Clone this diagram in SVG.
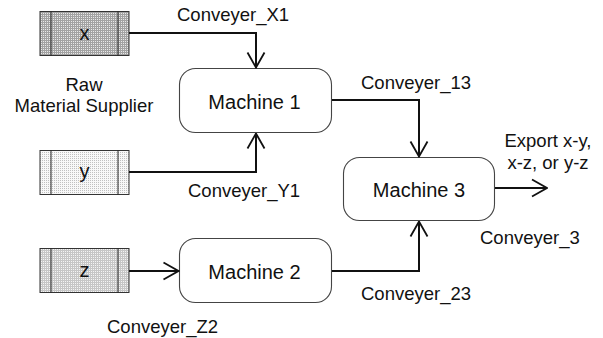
<svg xmlns="http://www.w3.org/2000/svg" width="603" height="338" viewBox="0 0 603 338">
  <style>
    text { font-family: "Liberation Sans", Arial, sans-serif; fill: #111; }
    .lbl { font-size: 18.5px; }
    .mlbl { font-size: 20px; text-anchor: middle; }
    .src { stroke: #333; stroke-width: 1; }
    .divider { stroke: #222; stroke-width: 1; }
    .machine { fill: #fff; stroke: #444; stroke-width: 1.1; }
    .conn { fill: none; stroke: #111; stroke-width: 2; marker-end: url(#openArrow); }
  </style>
  <defs>
    <!-- halftone fills for the three supplier bins -->
    <pattern id="fillDark" width="2" height="2" patternUnits="userSpaceOnUse">
      <rect width="2" height="2" fill="#e8e8e8"/>
      <rect width="2" height="1" fill="#a2a2a2"/>
      <rect width="1" height="2" fill="#a2a2a2"/>
    </pattern>
    <pattern id="fillMid" width="2" height="2" patternUnits="userSpaceOnUse">
      <rect width="2" height="2" fill="#f4f4f4"/>
      <rect width="2" height="1" fill="#c6c6c6"/>
      <rect width="1" height="2" fill="#c6c6c6"/>
    </pattern>
    <pattern id="fillLight" width="2" height="2" patternUnits="userSpaceOnUse">
      <rect width="2" height="2" fill="#f8f8f8"/>
      <rect width="1" height="1" fill="#c0c0c0"/>
    </pattern>
    <marker id="openArrow" viewBox="-17 -10 18 20" refX="0" refY="0" markerWidth="18" markerHeight="20" markerUnits="userSpaceOnUse" orient="auto">
      <path d="M-15,-8.5 L0,0 L-15,8.5" fill="none" stroke="#111" stroke-width="1.8"/>
    </marker>
  </defs>

  <!-- raw material supplier bins -->
  <g id="supplier-x">
    <rect class="src" x="40" y="11.5" width="89" height="44" fill="url(#fillDark)"/>
    <line class="divider" x1="51" y1="11.5" x2="51" y2="55.5"/>
    <line class="divider" x1="118" y1="11.5" x2="118" y2="55.5"/>
    <text class="mlbl" x="84.5" y="40">x</text>
  </g>
  <g id="supplier-y">
    <rect class="src" x="40" y="150.5" width="89" height="44" fill="url(#fillLight)"/>
    <line class="divider" x1="51" y1="150.5" x2="51" y2="194.5"/>
    <line class="divider" x1="118" y1="150.5" x2="118" y2="194.5"/>
    <text class="mlbl" x="84.5" y="178">y</text>
  </g>
  <g id="supplier-z">
    <rect class="src" x="40" y="248.5" width="89" height="44" fill="url(#fillMid)"/>
    <line class="divider" x1="51" y1="248.5" x2="51" y2="292.5"/>
    <line class="divider" x1="118" y1="248.5" x2="118" y2="292.5"/>
    <text class="mlbl" x="84.5" y="277">z</text>
  </g>
  <g id="supplier-caption">
    <text class="lbl" x="84" y="91" text-anchor="middle">Raw</text>
    <text class="lbl" x="84" y="112" text-anchor="middle">Material Supplier</text>
  </g>

  <!-- machines -->
  <g id="machine-1">
    <rect class="machine" x="179.5" y="68.5" width="152" height="64" rx="16" ry="16"/>
    <text class="mlbl" x="254.5" y="109">Machine 1</text>
  </g>
  <g id="machine-2">
    <rect class="machine" x="179.5" y="238.5" width="152" height="64" rx="16" ry="16"/>
    <text class="mlbl" x="254.5" y="279">Machine 2</text>
  </g>
  <g id="machine-3">
    <rect class="machine" x="343.5" y="157.5" width="151" height="63" rx="16" ry="16"/>
    <text class="mlbl" x="419" y="197">Machine 3</text>
  </g>

  <!-- conveyers -->
  <g id="connectors">
    <path class="conn" d="M129,33 H256 V67.5"/>
    <path class="conn" d="M129,172 H256 V133.5"/>
    <path class="conn" d="M129,271 H178.5"/>
    <path class="conn" d="M332,100 H419 V156.5"/>
    <path class="conn" d="M332,271 H419 V221.5"/>
    <path class="conn" d="M495,188 H547"/>
  </g>

  <!-- conveyer labels -->
  <g id="conveyer-labels">
    <text class="lbl" x="177" y="20.5">Conveyer_X1</text>
    <text class="lbl" x="188" y="197">Conveyer_Y1</text>
    <text class="lbl" x="107" y="333">Conveyer_Z2</text>
    <text class="lbl" x="361" y="89">Conveyer_13</text>
    <text class="lbl" x="361" y="300">Conveyer_23</text>
    <text class="lbl" x="480" y="244">Conveyer_3</text>
    <text class="lbl" x="548" y="147" text-anchor="middle">Export x-y,</text>
    <text class="lbl" x="548" y="169" text-anchor="middle">x-z, or y-z</text>
  </g>
</svg>
